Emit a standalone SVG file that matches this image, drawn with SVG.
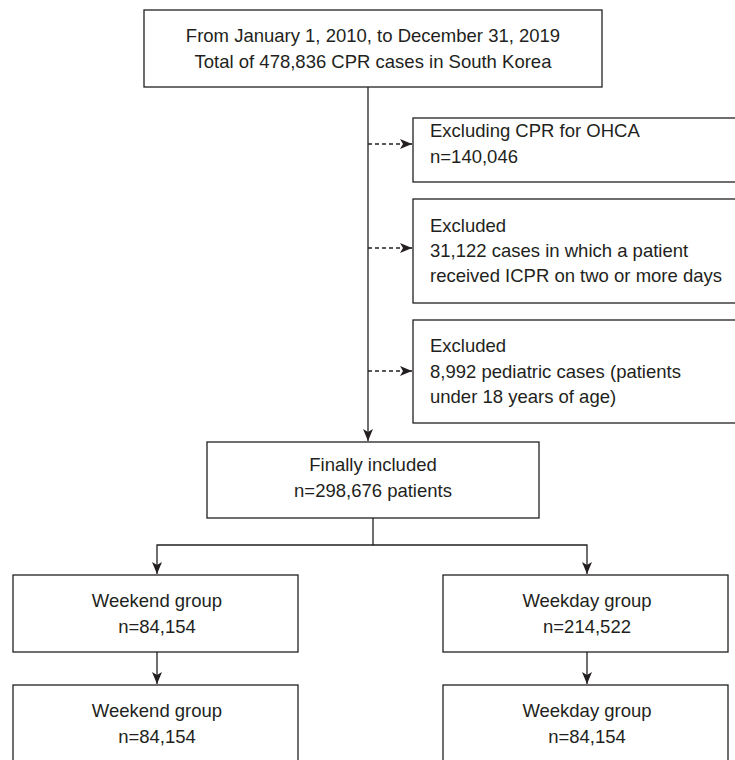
<svg xmlns="http://www.w3.org/2000/svg" width="735" height="760" viewBox="0 0 735 760">
<defs>
<style>
.box{fill:#fff;stroke:#231f20;stroke-width:1.3}
.t{font-family:"Liberation Sans",Arial,sans-serif;font-size:18.5px;fill:#231f20}
.c{text-anchor:middle}
.ln{fill:none;stroke:#231f20;stroke-width:1.3}
.dash{stroke-dasharray:4 3}
</style>
<marker id="ah" viewBox="0 0 12 10" refX="12" refY="5" markerWidth="12" markerHeight="10" markerUnits="userSpaceOnUse" orient="auto">
<path d="M0,0 L12,5 L0,10 L3,5 Z" fill="#231f20"/>
</marker>
</defs>
<rect width="735" height="760" fill="#fff"/>
<g id="connectors">
<line class="ln" x1="368" y1="87" x2="368" y2="441" marker-end="url(#ah)"/>
<line class="ln dash" x1="368" y1="144" x2="412" y2="144" marker-end="url(#ah)"/>
<line class="ln dash" x1="368" y1="248" x2="412" y2="248" marker-end="url(#ah)"/>
<line class="ln dash" x1="368" y1="371" x2="412" y2="371" marker-end="url(#ah)"/>
<polyline class="ln" points="373,518 373,545 157,545 157,574" marker-end="url(#ah)"/>
<polyline class="ln" points="373,545 587,545 587,574" marker-end="url(#ah)"/>
<line class="ln" x1="157" y1="652" x2="157" y2="684" marker-end="url(#ah)"/>
<line class="ln" x1="587" y1="652" x2="587" y2="684" marker-end="url(#ah)"/>
</g>
<g id="total">
<rect class="box" x="144" y="10" width="458" height="77"/>
<text class="t c" x="373" y="42">From January 1, 2010, to December 31, 2019</text>
<text class="t c" x="373" y="68">Total of 478,836 CPR cases in South Korea</text>
</g>
<g id="excl1">
<rect class="box" x="413" y="118" width="330" height="64"/>
<text class="t" x="430" y="137">Excluding CPR for OHCA</text>
<text class="t" x="430" y="163">n=140,046</text>
</g>
<g id="excl2">
<rect class="box" x="413" y="199" width="330" height="104"/>
<text class="t" x="430" y="232">Excluded</text>
<text class="t" x="430" y="257">31,122 cases in which a patient</text>
<text class="t" x="430" y="282">received ICPR on two or more days</text>
</g>
<g id="excl3">
<rect class="box" x="413" y="320" width="330" height="103"/>
<text class="t" x="430" y="352">Excluded</text>
<text class="t" x="430" y="378">8,992 pediatric cases (patients</text>
<text class="t" x="430" y="403">under 18 years of age)</text>
</g>
<g id="included">
<rect class="box" x="207" y="442" width="332" height="76"/>
<text class="t c" x="373" y="471">Finally included</text>
<text class="t c" x="373" y="497">n=298,676 patients</text>
</g>
<g id="weekend1">
<rect class="box" x="13" y="575" width="285" height="77"/>
<text class="t c" x="157" y="607">Weekend group</text>
<text class="t c" x="157" y="633">n=84,154</text>
</g>
<g id="weekday1">
<rect class="box" x="443" y="575" width="285" height="77"/>
<text class="t c" x="587" y="607">Weekday group</text>
<text class="t c" x="587" y="633">n=214,522</text>
</g>
<g id="weekend2">
<rect class="box" x="13" y="685" width="285" height="85"/>
<text class="t c" x="157" y="717">Weekend group</text>
<text class="t c" x="157" y="743">n=84,154</text>
</g>
<g id="weekday2">
<rect class="box" x="443" y="685" width="285" height="85"/>
<text class="t c" x="587" y="717">Weekday group</text>
<text class="t c" x="587" y="743">n=84,154</text>
</g>
</svg>
